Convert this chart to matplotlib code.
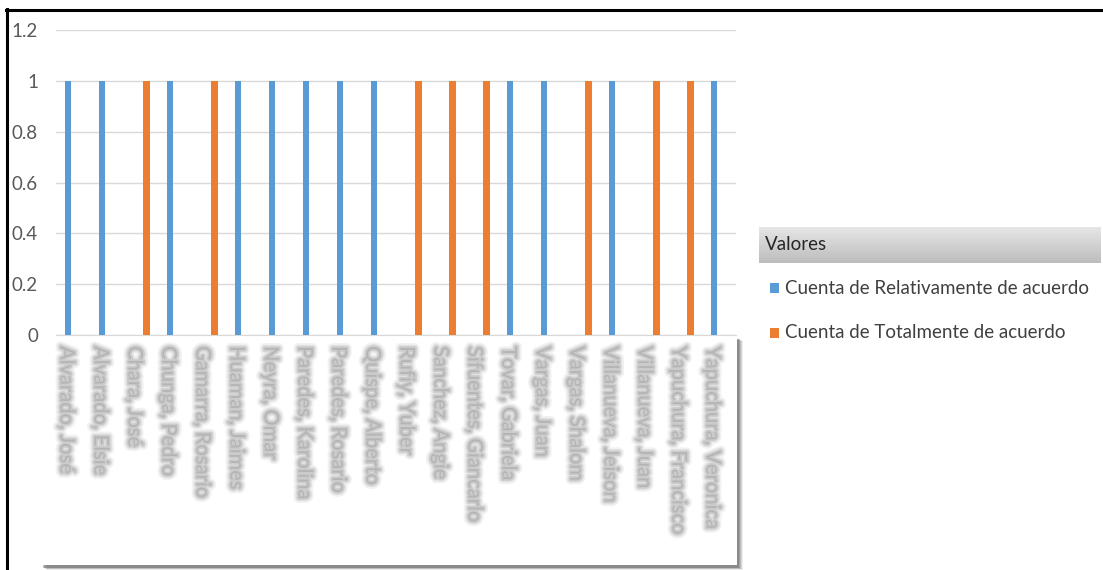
import numpy as np
import matplotlib
matplotlib.use("Agg")
import matplotlib.pyplot as plt
from matplotlib.patches import Rectangle
from matplotlib.lines import Line2D
from matplotlib.transforms import ScaledTranslation
import matplotlib.patheffects as pe

plt.rcParams['font.family'] = ['Lato', 'DejaVu Sans']

# personas encuestadas y conteo por respuesta (None = sin respuesta)
nombres = ["Alvarado, José", "Alvarado, Elsie", "Chara, José", "Chunga, Pedro",
           "Gamarra, Rosario", "Huaman, Jaimes", "Neyra, Omar", "Paredes, Karolina",
           "Paredes, Rosario", "Quispe, Alberto", "Rufiy, Yuber", "Sanchez, Angie",
           "Sifuentes, Giancarlo", "Tovar, Gabriela", "Vargas, Juan", "Vargas, Shalom",
           "Villanueva, Jeison", "Villanueva, Juan", "Yapuchura, Francisco",
           "Yapuchura, Veronica"]
relativamente = [1, 1, None, 1, None, 1, 1, 1, 1, 1,
                 None, None, None, 1, 1, None, 1, None, None, 1]
totalmente = [None, None, 1, None, 1, None, None, None, None, None,
              1, 1, 1, None, None, 1, None, 1, 1, None]
series = ["Cuenta de Relativamente de acuerdo", "Cuenta de Totalmente de acuerdo"]
colores = ["#5B9BD5", "#ED7D31"]
yticks = [0, 0.2, 0.4, 0.6, 0.8, 1, 1.2]

W, H = 1103, 570
fx = lambda x: x / W
fy = lambda y: 1 - y / H

fig = plt.figure(figsize=(W / 100, H / 100), dpi=100)
ax = fig.add_axes([fx(56), fy(335), 680 / W, 305 / H])
ax.set_zorder(2)
ax.patch.set_alpha(0)

x = np.arange(len(nombres))
rel = np.array([np.nan if v is None else v for v in relativamente], dtype=float)
tot = np.array([np.nan if v is None else v for v in totalmente], dtype=float)
ax.bar(x - 0.16, rel, 0.18, color=colores[0], zorder=3)
ax.bar(x + 0.16, tot, 0.18, color=colores[1], zorder=3)

ax.set_xlim(-0.5, len(nombres) - 0.5)
ax.set_ylim(0, 1.2)
ax.set_yticks(yticks)
ax.set_yticklabels([f"{v:g}" for v in yticks], color="#595959", fontsize=13.5)
ax.yaxis.grid(True, color="#d9d9d9", linewidth=1)
ax.set_axisbelow(True)
for s in ["top", "right", "left"]:
    ax.spines[s].set_visible(False)
ax.spines["bottom"].set_color("#d9d9d9")
ax.tick_params(axis="y", length=0, pad=13)
ax.tick_params(axis="x", length=0, pad=8)

# nombres difuminados en el eje x
ax.set_xticks(x)
ax.set_xticklabels(nombres, rotation=-90, va="top", ha="center",
                   fontsize=14.5, color="#b4b4b4")
shift = ScaledTranslation(-7 / 100, 0, fig.dpi_scale_trans)
for lbl in ax.get_xticklabels():
    lbl.set_transform(lbl.get_transform() + shift)
    lbl.set_path_effects([pe.Stroke(linewidth=7, foreground="#f2f2f2"),
                          pe.Stroke(linewidth=4.5, foreground="#e2e2e2"),
                          pe.Stroke(linewidth=2.5, foreground="#cbcbcb"),
                          pe.Normal()])

# caja blanca con sombra detrás de las etiquetas
for i, a in enumerate([0.12, 0.18, 0.25, 0.35, 0.45]):
    d = 5 - i
    fig.add_artist(Rectangle((fx(42 + d), fy(567 + d * 0.5)), (696) / W, (229) / H,
                             transform=fig.transFigure, facecolor="#707070",
                             edgecolor="none", alpha=a, zorder=0.4))
fig.add_artist(Rectangle((fx(40), fy(565)), 697 / W, 230 / H,
                         transform=fig.transFigure, facecolor="white",
                         edgecolor="none", zorder=0.5))

# borde negro del recuadro
fig.add_artist(Line2D([fx(7), fx(7)], [fy(9), 0], transform=fig.transFigure,
                      color="black", linewidth=2.2))
fig.add_artist(Line2D([fx(6), 1], [fy(10), fy(10)], transform=fig.transFigure,
                      color="black", linewidth=2.2))

# leyenda con encabezado "Valores"
hax = fig.add_axes([fx(759), fy(263), 342 / W, 36 / H])
grad = np.linspace(0, 1, 50).reshape(-1, 1)
hax.imshow(grad, cmap=matplotlib.colors.LinearSegmentedColormap.from_list(
    "g", ["#e6e6e6", "#bdbdbd"]), aspect="auto", extent=[0, 1, 0, 1])
hax.set_axis_off()
fig.text(fx(765), fy(245), "Valores", fontsize=13.5, color="#262626", va="center")

for i, (nombre, c) in enumerate(zip(series, colores)):
    yc = 288 + i * 45
    fig.add_artist(Rectangle((fx(770), fy(yc + 5)), 9 / W, 10 / H,
                             transform=fig.transFigure, facecolor=c, edgecolor="none"))
    fig.text(fx(785), fy(yc), nombre, fontsize=13.5, color="#404040", va="center")

fig.savefig("out.png", dpi=100)
